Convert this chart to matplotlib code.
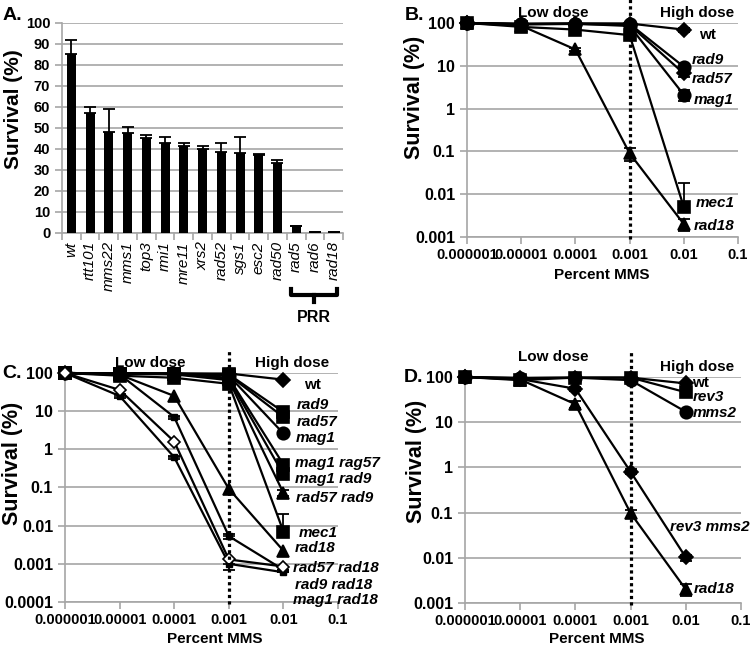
import numpy as np
import matplotlib
matplotlib.use("Agg")
import matplotlib.pyplot as plt
from matplotlib.transforms import blended_transform_factory

plt.rcParams['font.family'] = ['Liberation Sans', 'DejaVu Sans']
plt.rcParams['font.weight'] = 'bold'

# ---------------- Data ----------------
# Panel A
strains_a = ['wt', 'rtt101', 'mms22', 'mms1', 'top3', 'rmi1', 'mre11', 'xrs2',
             'rad52', 'sgs1', 'esc2', 'rad50', 'rad5', 'rad6', 'rad18']
survival_a = [85.3, 57.3, 48.3, 47.8, 45.4, 42.8, 41.6, 40.0, 38.6, 38.3, 37.2, 33.2, 3.2, 0.5, 0.3]
error_a = [6.6, 2.8, 10.6, 2.8, 1.4, 2.9, 1.1, 1.6, 4.4, 7.6, 0.5, 1.5, 0, 0, 0]
yticks_a = ['0', '10', '20', '30', '40', '50', '60', '70', '80', '90', '100']

# Doses (percent MMS)
doses = [1e-6, 1e-5, 1e-4, 1e-3, 1e-2]
xtick_labels = ['0.000001', '0.00001', '0.0001', '0.001', '0.01', '0.1']

# Panel B
b_wt = [100, 95, 97, 97, 70]
b_rad9 = [100, 95, 97, 95, 9.5]
b_rad57 = [100, 92, 95, 90, 6.6]
b_mag1 = [100, 95, 96, 85, 2.1]
b_mec1 = [100, 81, 70, 52, 0.005]
b_rad18 = [100, 86, 24, 0.09, 0.002]
b_wt_err = [0, 0, 0, 0, 8]
b_rad57_err = [0, 0, 0, 0, 1.2]
b_mag1_err = [0, 0, 0, 0, 0.6]
b_mec1_err = [0, 0, 0, 0, 0.013]
b_rad18_err = [0, 0, 2, 0.03, 0.0006]
yticks_b = ['0.001', '0.01', '0.1', '1', '10', '100']

# Panel C
c_wt = [100, 97, 97, 97, 67]
c_rad9 = [100, 97, 97, 92, 9.5]
c_rad57 = [100, 97, 95, 88, 7.0]
c_mag1 = [100, 97, 97, 85, 2.6]
c_mag1_rad57 = [100, 97, 95, 75, 0.4]
c_mag1_rad9 = [100, 97, 95, 70, 0.22]
c_rad57_rad9 = [100, 95, 92, 65, 0.072]
c_mec1 = [100, 85, 75, 52, 0.007]
c_rad18 = [100, 90, 25, 0.092, 0.0022]
c_rad57_rad18 = [100, 36, 1.6, 0.0013, 0.00085]
c_rad9_rad18 = [100, 92, 7.0, 0.0053, 0.0007]
c_mag1_rad18 = [100, 25, 0.62, 0.001, 0.0006]
c_mec1_err = [0, 0, 0, 0, 0.013]
c_rad57_rad9_err = [0, 0, 0, 0, 0.012]
c_rad9_rad18_err = [0, 0, 0.6, 0.0008, 0]
c_mag1_rad18_err = [0, 3, 0.06, 0.0003, 0]
yticks_c = ['0.0001', '0.001', '0.01', '0.1', '1', '10', '100']

# Panel D
d_wt = [100, 95, 97, 97, 72]
d_rev3 = [100, 85, 97, 97, 46]
d_mms2 = [100, 95, 97, 85, 17]
d_rev3_mms2 = [100, 90, 55, 0.8, 0.0102]
d_rad18 = [100, 88, 25, 0.097, 0.002]
d_rad18_err = [0, 0, 4, 0.02, 0.0006]
d_rev3_mms2_err = [0, 0, 6, 0.1, 0.0015]
yticks_d = ['0.001', '0.01', '0.1', '1', '10', '100']

# ---------------- Figure ----------------
fig = plt.figure(figsize=(7.5, 6.45), dpi=100)
GRID = '#a6a6a6'
FS_XTICK = 10.5
FS_YTICK = 11.5
FS_LAB = 11


def style_axes(ax):
    for s in ['top', 'right']:
        ax.spines[s].set_visible(False)
    for s in ['left', 'bottom']:
        ax.spines[s].set_color(GRID)
        ax.spines[s].set_linewidth(1.2)
    ax.tick_params(axis='both', which='both', direction='out', color=GRID,
                   length=5, width=1.2, labelcolor='black')
    ax.yaxis.grid(True, color=GRID, lw=1.2)
    ax.set_axisbelow(True)


# ---- Panel A ----
axA = fig.add_axes([0.0827, 0.6388, 0.3747, 0.3256])
style_axes(axA)
xa = np.arange(len(strains_a))
axA.bar(xa, survival_a, width=0.48, color='black', zorder=3)
axA.errorbar(xa, survival_a, yerr=[np.zeros(len(xa)), error_a], fmt='none',
             ecolor='black', elinewidth=1.3, capsize=4, capthick=1.3, zorder=4)
axA.set_xlim(-0.5, len(strains_a) - 0.5)
axA.set_ylim(0, 100)
axA.set_yticks(np.arange(0, 101, 10))
axA.set_yticklabels(yticks_a, fontsize=10.5, fontweight='bold')
axA.set_xticks(xa)
axA.set_xticklabels(strains_a, rotation=90, fontsize=11, fontstyle='italic',
                    fontweight='normal')
axA.tick_params(axis='x', which='major', length=0, pad=6)
axA.set_xticks(np.arange(-0.5, len(strains_a), 1), minor=True)
axA.tick_params(axis='x', which='minor', length=5, color=GRID, width=1.2)
axA.set_ylabel('Survival (%)', fontsize=15, fontweight='bold')
axA.yaxis.set_label_coords(-0.139, 0.59)

# PRR bracket
trA = blended_transform_factory(axA.transData, fig.transFigure)
i5 = strains_a.index('rad5')
i18 = len(strains_a) - 1
xl, xr = i5 - 0.3, i18 + 0.2
xm = (xl + xr) / 2
y_top, y_mid, y_bot = 1 - 289 / 645, 1 - 295 / 645, 1 - 302 / 645
axA.plot([xl, xl, xr, xr], [y_top, y_mid, y_mid, y_top], color='black', lw=3,
         transform=trA, clip_on=False, solid_joinstyle='round')
axA.plot([xm, xm], [y_mid, y_bot], color='black', lw=3, transform=trA, clip_on=False)
axA.text(xm, 1 - 317 / 645, 'PRR', transform=trA, ha='center', va='center',
         fontsize=11.5, fontweight='bold')


def setup_log(ax, ymin, ylabels):
    style_axes(ax)
    ax.set_xscale('log')
    ax.set_yscale('log')
    ax.set_xlim(1e-6, 0.1)
    ax.set_ylim(ymin, 100)
    xt = [10.0 ** e for e in range(-6, 0)]
    ax.set_xticks(xt)
    ax.set_xticklabels(xtick_labels, fontsize=FS_XTICK, fontweight='bold')
    yt = [10.0 ** e for e in range(int(round(np.log10(ymin))), 3)]
    ax.set_yticks(yt)
    ax.set_yticklabels(ylabels, fontsize=FS_YTICK, fontweight='bold')
    ax.minorticks_off()
    ax.tick_params(axis='x', pad=3)
    ax.set_ylabel('Survival (%)', fontsize=15.5, fontweight='bold')
    ax.set_xlabel('Percent MMS', fontsize=FS_LAB, fontweight='bold')


def series(ax, y, marker, err=None, ms=8, mfc='black', up_only=False):
    if err is not None:
        e = np.array(err, dtype=float)
        yerr = [np.zeros_like(e), e] if up_only else [e, e]
        ax.errorbar(doses, y, yerr=yerr, fmt='none', ecolor='black',
                    elinewidth=1.3, capsize=4, capthick=1.3, zorder=3, clip_on=False)
    ax.plot(doses, y, color='black', lw=1.6, marker=marker, ms=ms, mfc=mfc,
            mec='black', mew=1.2, zorder=4, clip_on=False)


def vline(ax, top):
    tr = blended_transform_factory(ax.transData, ax.transAxes)
    ax.plot([1e-3, 1e-3], [-0.01, top], transform=tr, color='black', lw=2.3,
            ls=(0, (1, 1)), clip_on=False, zorder=5)


def lab(ax, x, y, s, italic=True, ha='left'):
    ax.text(x, y, s, transform=ax.transAxes, ha=ha, va='center', fontsize=FS_LAB,
            fontweight='bold', fontstyle='italic' if italic else 'normal')


# ---- Panel B ----
axB = fig.add_axes([0.6227, 0.6326, 0.3613, 0.3318])
setup_log(axB, 1e-3, yticks_b)
axB.yaxis.set_label_coords(-0.155, 0.654)
axB.xaxis.set_label_coords(0.498, -0.145)
series(axB, b_wt, 'D', b_wt_err, ms=7)
series(axB, b_rad57, 'D', b_rad57_err, ms=7)
series(axB, b_rad9, 'o', ms=9)
series(axB, b_mag1, 'o', b_mag1_err, ms=9)
series(axB, b_mec1, 's', b_mec1_err, ms=9, up_only=True)
series(axB, b_rad18, '^', b_rad18_err, ms=9)
vline(axB, 1.11)
lab(axB, 0.317, 1.047, 'Low dose', italic=False, ha='center')
lab(axB, 0.849, 1.047, 'High dose', italic=False, ha='center')
lab(axB, 0.889, 0.944, 'wt', italic=False, ha='center')
lab(axB, 0.830, 0.827, 'rad9')
lab(axB, 0.830, 0.738, 'rad57')
lab(axB, 0.838, 0.640, 'mag1')
lab(axB, 0.845, 0.159, 'mec1')
lab(axB, 0.838, 0.051, 'rad18')

# ---- Panel C ----
axC = fig.add_axes([0.0867, 0.0667, 0.364, 0.355])
setup_log(axC, 1e-4, yticks_c)
axC.yaxis.set_label_coords(-0.154, 0.607)
axC.xaxis.set_label_coords(0.55, -0.131)
series(axC, c_wt, 'D', ms=7)
series(axC, c_rad9, 's', ms=9)
series(axC, c_rad57, 's', ms=9)
series(axC, c_mag1, 'o', ms=9)
series(axC, c_mag1_rad57, 's', ms=9)
series(axC, c_mag1_rad9, 's', ms=9)
series(axC, c_rad57_rad9, '^', c_rad57_rad9_err, ms=8)
series(axC, c_mec1, 's', c_mec1_err, ms=9, up_only=True)
series(axC, c_rad18, '^', ms=8)
series(axC, c_rad9_rad18, '_', c_rad9_rad18_err, ms=8)
series(axC, c_mag1_rad18, '_', c_mag1_rad18_err, ms=8)
axC.plot(doses, c_mag1_rad18, color='black', lw=0, marker='s', ms=5, zorder=4,
         clip_on=False)
axC.plot(doses, c_rad9_rad18, color='black', lw=0, marker='s', ms=5, zorder=4,
         clip_on=False)
series(axC, c_rad57_rad18, 'D', ms=6, mfc='white')
vline(axC, 1.10)
lab(axC, 0.311, 1.044, 'Low dose', italic=False, ha='center')
lab(axC, 0.832, 1.044, 'High dose', italic=False, ha='center')
lab(axC, 0.905, 0.948, 'wt', italic=False, ha='center')
lab(axC, 0.850, 0.860, 'rad9')
lab(axC, 0.850, 0.786, 'rad57')
lab(axC, 0.846, 0.716, 'mag1')
lab(axC, 0.842, 0.607, 'mag1 rag57')
lab(axC, 0.842, 0.537, 'mag1 rad9')
lab(axC, 0.846, 0.454, 'rad57 rad9')
lab(axC, 0.857, 0.301, 'mec1')
lab(axC, 0.842, 0.236, 'rad18')
lab(axC, 0.835, 0.148, 'rad57 rad18')
lab(axC, 0.842, 0.074, 'rad9 rad18')
lab(axC, 0.835, 0.009, 'mag1 rad18')

# ---- Panel D ----
axD = fig.add_axes([0.62, 0.0651, 0.368, 0.3504])
setup_log(axD, 1e-3, yticks_d)
axD.yaxis.set_label_coords(-0.138, 0.628)
axD.xaxis.set_label_coords(0.478, -0.128)
series(axD, d_wt, 'D', ms=7)
series(axD, d_rev3, 's', ms=9)
series(axD, d_mms2, 'o', ms=9)
series(axD, d_rev3_mms2, 'D', d_rev3_mms2_err, ms=7)
series(axD, d_rad18, '^', d_rad18_err, ms=9)
vline(axD, 1.12)
lab(axD, 0.319, 1.088, 'Low dose', italic=False, ha='center')
lab(axD, 0.841, 1.044, 'High dose', italic=False, ha='center')
lab(axD, 0.855, 0.973, 'wt', italic=False, ha='center')
lab(axD, 0.826, 0.912, 'rev3')
lab(axD, 0.826, 0.841, 'mms2')
lab(axD, 0.743, 0.336, 'rev3 mms2')
lab(axD, 0.830, 0.062, 'rad18')

# Panel letters
for s, x, y in [('A.', 3, 15), ('B.', 405, 15), ('C.', 2, 373), ('D.', 404, 378)]:
    fig.text(x / 750, 1 - y / 645, s, ha='left', va='center', fontsize=14,
             fontweight='bold')

fig.savefig('out.png', dpi=100)
